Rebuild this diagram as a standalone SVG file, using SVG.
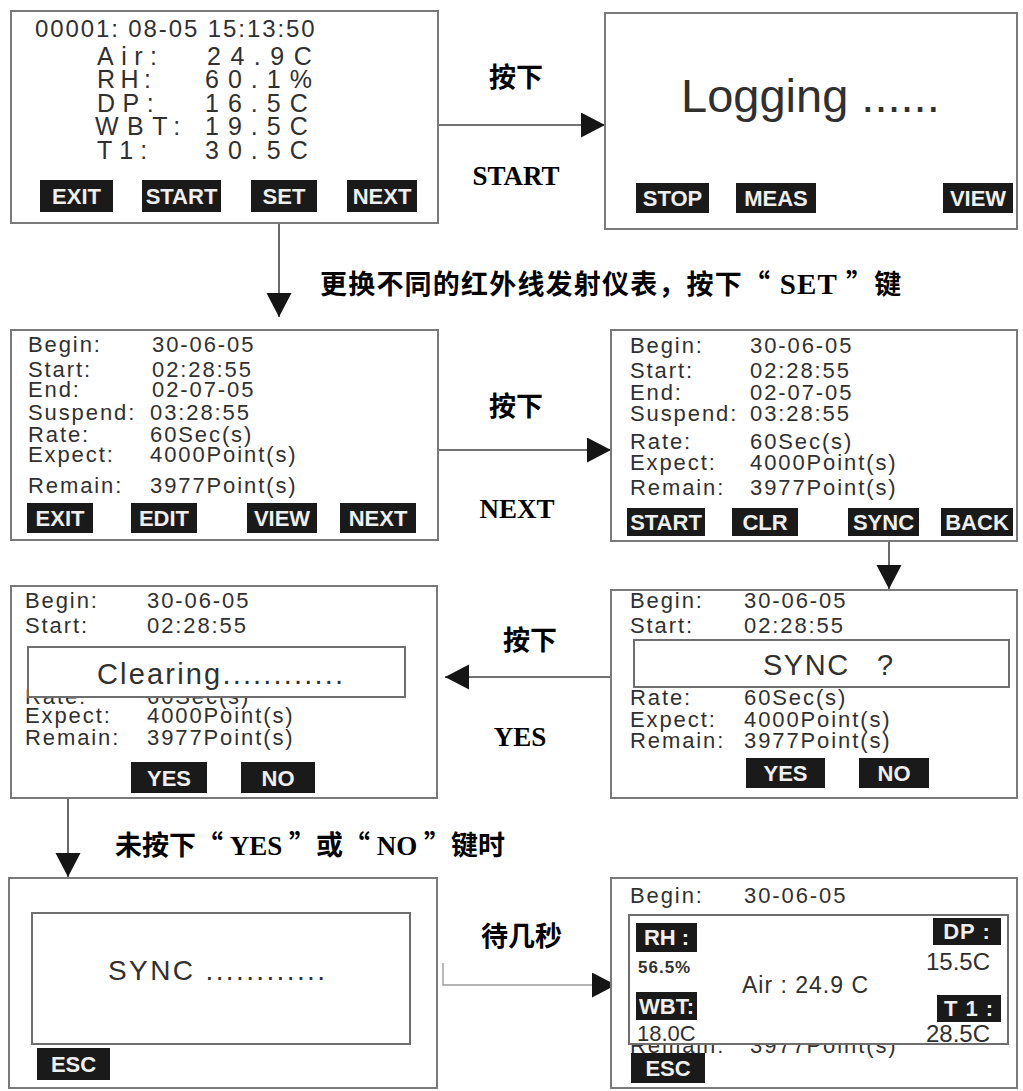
<svg xmlns="http://www.w3.org/2000/svg" width="1023" height="1091" viewBox="0 0 1023 1091">
<style>
.panel{fill:#fff;stroke:#7a7a7a;stroke-width:2}
.ovl{fill:#fff;stroke:#6e6e6e;stroke-width:2}
.scr{font-family:"Liberation Sans",Arial,sans-serif;fill:#303030}
.row{font-size:22px;letter-spacing:1.9px}
.btn{fill:#1a1a1a}
.bt{font-family:"Liberation Sans",Arial,sans-serif;font-weight:bold;font-size:22px;fill:#efefef;text-anchor:middle}
.cn{font-family:"Noto Sans CJK SC",sans-serif;font-weight:bold;font-size:27px;fill:#000}
.en{font-family:"Liberation Serif","Times New Roman",serif;font-weight:bold;fill:#000}
.conn{stroke:#444;stroke-width:1.6;fill:none}
.connl{stroke:#9a9a9a;stroke-width:1.4;fill:none}
</style>
<defs>
<marker id="ah" markerUnits="userSpaceOnUse" markerWidth="26" markerHeight="26" refX="24" refY="12.5" orient="auto">
<path d="M0,0 L24,12.5 L0,25 z" fill="#151515"/>
</marker>
</defs>

<g id="connectors">
<line class="conn" x1="438" y1="125" x2="605" y2="125" marker-end="url(#ah)"/>
<line class="conn" x1="279" y1="223" x2="279" y2="317" marker-end="url(#ah)"/>
<line class="conn" x1="438" y1="450" x2="611" y2="450" marker-end="url(#ah)"/>
<line class="conn" x1="889" y1="541" x2="889" y2="589" marker-end="url(#ah)"/>
<line class="conn" x1="611" y1="677" x2="445" y2="677" marker-end="url(#ah)"/>
<line class="conn" x1="68" y1="798" x2="68" y2="877" marker-end="url(#ah)"/>
<polyline class="connl" points="443,963 443,985 616,985" marker-end="url(#ah)"/>
</g>

<g id="edge-labels">
<text class="cn" x="516" y="87" text-anchor="middle">按下</text>
<text class="en" x="516" y="185" font-size="27" text-anchor="middle">START</text>
<text class="cn" x="320" y="294" letter-spacing="1.2">更换不同的红外线发射仪表，按下“<tspan class="en" font-size="29"> SET </tspan>”键</text>
<text class="cn" x="516" y="416" text-anchor="middle">按下</text>
<text class="en" x="517" y="518" font-size="27" text-anchor="middle">NEXT</text>
<text class="cn" x="530" y="650" text-anchor="middle">按下</text>
<text class="en" x="520" y="746" font-size="27" text-anchor="middle">YES</text>
<text class="cn" x="115" y="855">未按下“<tspan class="en"> YES </tspan>”或“<tspan class="en"> NO </tspan>”键时</text>
<text class="cn" x="481" y="946">待几秒</text>
</g>

<g id="screen-measure">
<rect class="panel" x="11" y="11" width="427" height="212"/>
<text class="scr" x="35" y="37" font-size="24" letter-spacing="1.9">00001: 08-05 15:13:50</text>
<g class="scr" font-size="25">
<text x="97" y="65" letter-spacing="7.5">Air:</text><text x="207" y="65" letter-spacing="9.5">24.9C</text>
<text x="97" y="88" letter-spacing="5.5">RH:</text><text x="205" y="88" letter-spacing="9">60.1%</text>
<text x="97" y="112" letter-spacing="7.5">DP:</text><text x="205" y="112" letter-spacing="9">16.5C</text>
<text x="95" y="135" letter-spacing="8.5">WBT:</text><text x="205" y="135" letter-spacing="9">19.5C</text>
<text x="97" y="159" letter-spacing="7">T1:</text><text x="205" y="159" letter-spacing="9">30.5C</text>
</g>
<rect class="btn" x="40" y="180" width="73" height="32"/><text class="bt" x="76.5" y="204" font-size="23">EXIT</text>
<rect class="btn" x="142" y="180" width="79" height="32"/><text class="bt" x="181.5" y="204" font-size="23">START</text>
<rect class="btn" x="251" y="180" width="66" height="32"/><text class="bt" x="284" y="204" font-size="23">SET</text>
<rect class="btn" x="347" y="180" width="70" height="32"/><text class="bt" x="382" y="204" font-size="23">NEXT</text>
</g>

<g id="screen-logging">
<rect class="panel" x="605" y="13" width="412" height="216"/>
<text class="scr" x="681" y="112" font-size="47">Logging ......</text>
<rect class="btn" x="636" y="183" width="73" height="30"/><text class="bt" x="672.5" y="206">STOP</text>
<rect class="btn" x="736" y="183" width="80" height="30"/><text class="bt" x="776" y="206">MEAS</text>
<rect class="btn" x="943" y="183" width="70" height="30"/><text class="bt" x="978" y="206">VIEW</text>
</g>

<g id="screen-info">
<rect class="panel" x="11" y="330" width="427" height="210"/>
<g class="scr row">
<text x="28" y="352">Begin:</text><text x="152" y="352">30-06-05</text>
<text x="28" y="377">Start:</text><text x="152" y="377">02:28:55</text>
<text x="28" y="397">End:</text><text x="152" y="397">02-07-05</text>
<text x="28" y="420">Suspend:</text><text x="150" y="420">03:28:55</text>
<text x="28" y="442">Rate:</text><text x="150" y="442">60Sec(s)</text>
<text x="28" y="462">Expect:</text><text x="150" y="462">4000Point(s)</text>
<text x="28" y="493">Remain:</text><text x="150" y="493">3977Point(s)</text>
</g>
<rect class="btn" x="27" y="503" width="66" height="30"/><text class="bt" x="60" y="526">EXIT</text>
<rect class="btn" x="131" y="503" width="66" height="30"/><text class="bt" x="164" y="526">EDIT</text>
<rect class="btn" x="247" y="503" width="70" height="30"/><text class="bt" x="282" y="526">VIEW</text>
<rect class="btn" x="340" y="503" width="76" height="30"/><text class="bt" x="378" y="526">NEXT</text>
</g>

<g id="screen-info-next">
<rect class="panel" x="611" y="330" width="406" height="211"/>
<g class="scr row">
<text x="630" y="353">Begin:</text><text x="750" y="353">30-06-05</text>
<text x="630" y="378">Start:</text><text x="750" y="378">02:28:55</text>
<text x="630" y="400">End:</text><text x="750" y="400">02-07-05</text>
<text x="630" y="421">Suspend:</text><text x="750" y="421">03:28:55</text>
<text x="630" y="449">Rate:</text><text x="750" y="449">60Sec(s)</text>
<text x="630" y="470">Expect:</text><text x="750" y="470">4000Point(s)</text>
<text x="630" y="495">Remain:</text><text x="750" y="495">3977Point(s)</text>
</g>
<rect class="btn" x="627" y="508" width="78" height="28"/><text class="bt" x="666" y="530">START</text>
<rect class="btn" x="732" y="508" width="66" height="28"/><text class="bt" x="765" y="530">CLR</text>
<rect class="btn" x="848" y="508" width="71" height="28"/><text class="bt" x="883.5" y="530">SYNC</text>
<rect class="btn" x="941" y="508" width="72" height="28"/><text class="bt" x="977" y="530">BACK</text>
</g>

<g id="screen-clearing">
<rect class="panel" x="11" y="586" width="426" height="212"/>
<g class="scr row">
<text x="25" y="608">Begin:</text><text x="147" y="608">30-06-05</text>
<text x="25" y="633">Start:</text><text x="147" y="633">02:28:55</text>
<text x="25" y="704">Rate:</text><text x="147" y="704">60Sec(s)</text>
<text x="25" y="723">Expect:</text><text x="147" y="723">4000Point(s)</text>
<text x="25" y="745">Remain:</text><text x="147" y="745">3977Point(s)</text>
</g>
<rect class="ovl" x="28" y="647" width="377" height="50"/>
<text class="scr" x="97" y="684" font-size="29" textLength="246" lengthAdjust="spacing">Clearing............</text>
<rect class="btn" x="131" y="762" width="76" height="31"/><text class="bt" x="169" y="786">YES</text>
<rect class="btn" x="241" y="762" width="74" height="31"/><text class="bt" x="278" y="786">NO</text>
</g>

<g id="screen-sync-confirm">
<rect class="panel" x="611" y="590" width="406" height="208"/>
<g class="scr row">
<text x="630" y="608">Begin:</text><text x="744" y="608">30-06-05</text>
<text x="630" y="633">Start:</text><text x="744" y="633">02:28:55</text>
<text x="630" y="705">Rate:</text><text x="744" y="705">60Sec(s)</text>
<text x="630" y="727">Expect:</text><text x="744" y="727">4000Point(s)</text>
<text x="630" y="748">Remain:</text><text x="744" y="748">3977Point(s)</text>
</g>
<rect class="ovl" x="634" y="640" width="375" height="47"/>
<text class="scr" x="763" y="675" font-size="29" letter-spacing="1.5">SYNC <tspan x="877">?</tspan></text>
<rect class="btn" x="746" y="758" width="79" height="30"/><text class="bt" x="785.5" y="781">YES</text>
<rect class="btn" x="859" y="758" width="70" height="30"/><text class="bt" x="894" y="781">NO</text>
</g>

<g id="screen-syncing">
<rect class="panel" x="9" y="878" width="428" height="210"/>
<rect class="ovl" x="32" y="913" width="378" height="131" style="fill:none"/>
<text class="scr" x="108" y="980" font-size="28" textLength="217" lengthAdjust="spacing">SYNC ............</text>
<rect class="btn" x="37" y="1048" width="73" height="32"/><text class="bt" x="73.5" y="1072">ESC</text>
</g>

<g id="screen-readings">
<rect class="panel" x="611" y="878" width="406" height="210"/>
<g class="scr row">
<text x="630" y="903">Begin:</text><text x="744" y="903">30-06-05</text>
<text x="630" y="1053">Remain:</text><text x="750" y="1053">3977Point(s)</text>
</g>
<rect class="ovl" x="629" y="915" width="379" height="129"/>
<rect class="btn" x="636" y="923" width="61" height="29"/><text class="bt" x="666.5" y="945" font-size="20">RH :</text>
<text class="scr" x="638" y="973" font-size="17" font-weight="bold" letter-spacing="1">56.5%</text>
<text class="scr" x="742" y="993" font-size="23" letter-spacing="1">Air : 24.9 C</text>
<rect class="btn" x="636" y="992" width="61" height="28"/><text class="bt" x="666.5" y="1014" font-size="19">WBT:</text>
<text class="scr" x="637" y="1041" font-size="22">18.0C</text>
<rect class="btn" x="933" y="918" width="68" height="27"/><text class="bt" x="967" y="939" font-size="21" letter-spacing="1">DP :</text>
<text class="scr" x="926" y="970" font-size="24">15.5C</text>
<rect class="btn" x="937" y="995" width="64" height="27"/><text class="bt" x="969" y="1016" font-size="21" letter-spacing="1">T 1 :</text>
<text class="scr" x="926" y="1042" font-size="24">28.5C</text>
<rect class="btn" x="631" y="1053" width="74" height="30"/><text class="bt" x="668" y="1076">ESC</text>
</g>
</svg>
